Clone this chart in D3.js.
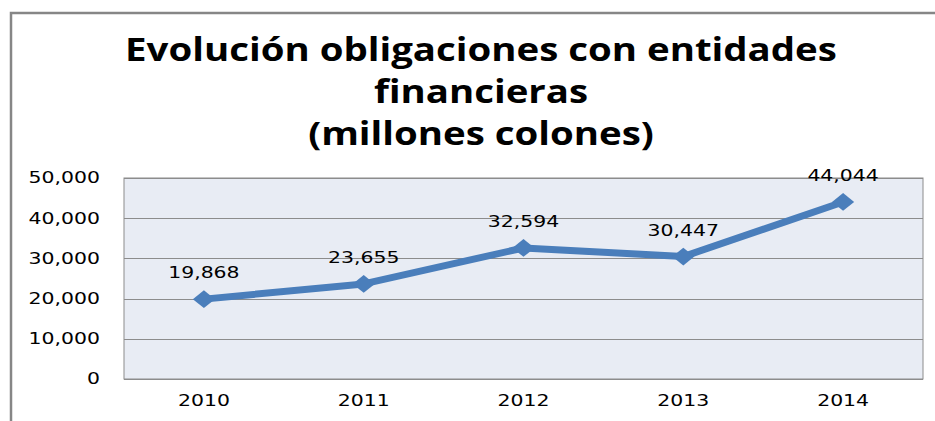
<!DOCTYPE html>
<html>
<head>
<meta charset="utf-8">
<script src="https://cdn.jsdelivr.net/npm/d3@7"></script>
<style>
  body { margin: 0; background: #fff; }
  svg { display: block; }
</style>
</head>
<body>
<div id="chart"></div>
<script>
// chart data
var years = ["2010", "2011", "2012", "2013", "2014"];
var values = [19868, 23655, 32594, 30447, 44044];
var yTicks = [0, 10000, 20000, 30000, 40000, 50000];
var titleLines = ["Evolución obligaciones con entidades", "financieras", "(millones colones)"];

var W = 935, H = 421;
var plot = { left: 124, right: 923, top: 178, bottom: 379 };
var stretch = 1.36; // the picture's text is wide

var svg = d3.select("#chart").append("svg")
    .attr("width", W)
    .attr("height", H);

// outer frame (only top and left visible)
svg.append("path")
    .attr("d", "M11,421 V13 H935")
    .attr("fill", "none")
    .attr("stroke", "#868686")
    .attr("stroke-width", 2.5);

// widen a text to stretch its natural width
function widen(sel, f) {
    sel.each(function() {
        var w = this.getComputedTextLength();
        d3.select(this)
            .attr("textLength", w * f)
            .attr("lengthAdjust", "spacingAndGlyphs");
    });
}

// title
svg.append("g").selectAll("text")
    .data(titleLines)
    .enter()
    .append("text")
        .attr("x", 481)
        .attr("y", function(d, i) { return 61 + i * 42; })
        .attr("text-anchor", "middle")
        .attr("font-family", "'Open Sans', sans-serif")
        .attr("font-weight", "bold")
        .attr("font-size", "32px")
        .attr("fill", "#000")
        .text(function(d) { return d; })
        .call(widen, 1.2);

var x = d3.scaleBand()
    .domain(years)
    .range([plot.left, plot.right]);

var y = d3.scaleLinear()
    .domain([0, 50000])
    .range([plot.bottom, plot.top]);

// plot background
svg.append("rect")
    .attr("x", plot.left)
    .attr("y", plot.top)
    .attr("width", plot.right - plot.left)
    .attr("height", plot.bottom - plot.top)
    .attr("fill", "#e8ecf4")
    .attr("stroke", "#8c8c8c")
    .attr("stroke-width", 1);

// gridlines
svg.append("g").selectAll("line")
    .data(yTicks)
    .enter()
    .append("line")
        .attr("x1", plot.left)
        .attr("x2", plot.right)
        .attr("y1", function(d) { return Math.round(y(d)) + 0.5; })
        .attr("y2", function(d) { return Math.round(y(d)) + 0.5; })
        .attr("stroke", "#8c8c8c")
        .attr("stroke-width", 1);

// Y axis
var yAxisCall = d3.axisLeft(y)
    .tickValues(yTicks)
    .tickSize(0)
    .tickPadding(24)
    .tickFormat(d3.format(","));

var yAxis = svg.append("g")
    .attr("transform", "translate(" + plot.left + ",0)")
    .call(yAxisCall);
yAxis.select(".domain").remove();
yAxis.selectAll("text")
    .attr("font-family", "'DejaVu Sans', Verdana, sans-serif")
    .attr("font-size", "15px")
    .attr("fill", "#000")
    .call(widen, stretch);

// X axis
var xAxisCall = d3.axisBottom(x).tickSize(0).tickPadding(16);
var xAxis = svg.append("g")
    .attr("transform", "translate(0," + plot.bottom + ")")
    .call(xAxisCall);
xAxis.select(".domain").remove();
xAxis.selectAll("text")
    .attr("font-family", "'DejaVu Sans', Verdana, sans-serif")
    .attr("font-size", "15px")
    .attr("fill", "#000")
    .call(widen, stretch);

var pts = years.map(function(d, i) { return { year: d, valor: values[i] }; });
var cx = function(d) { return x(d.year) + x.bandwidth() / 2; };

// line
var line = d3.line()
    .x(cx)
    .y(function(d) { return y(d.valor); });

svg.append("path")
    .datum(pts)
    .attr("d", line)
    .attr("fill", "none")
    .attr("stroke", "#4a7ebb")
    .attr("stroke-width", 7)
    .attr("stroke-linejoin", "round");

// diamond markers
svg.append("g").selectAll("path")
    .data(pts)
    .enter()
    .append("path")
        .attr("d", d3.symbol().type(d3.symbolDiamond2).size(200))
        .attr("transform", function(d) { return "translate(" + cx(d) + "," + y(d.valor) + ") scale(1.25,1)"; })
        .attr("fill", "#4a7ebb");

// data labels
svg.append("g").selectAll("text")
    .data(pts)
    .enter()
    .append("text")
        .attr("x", cx)
        .attr("y", function(d) { return y(d.valor) - 21; })
        .attr("text-anchor", "middle")
        .attr("font-family", "'DejaVu Sans', Verdana, sans-serif")
        .attr("font-size", "15px")
        .attr("fill", "#000")
        .text(function(d) { return d3.format(",")(d.valor); })
        .call(widen, stretch);
</script>
</body>
</html>
